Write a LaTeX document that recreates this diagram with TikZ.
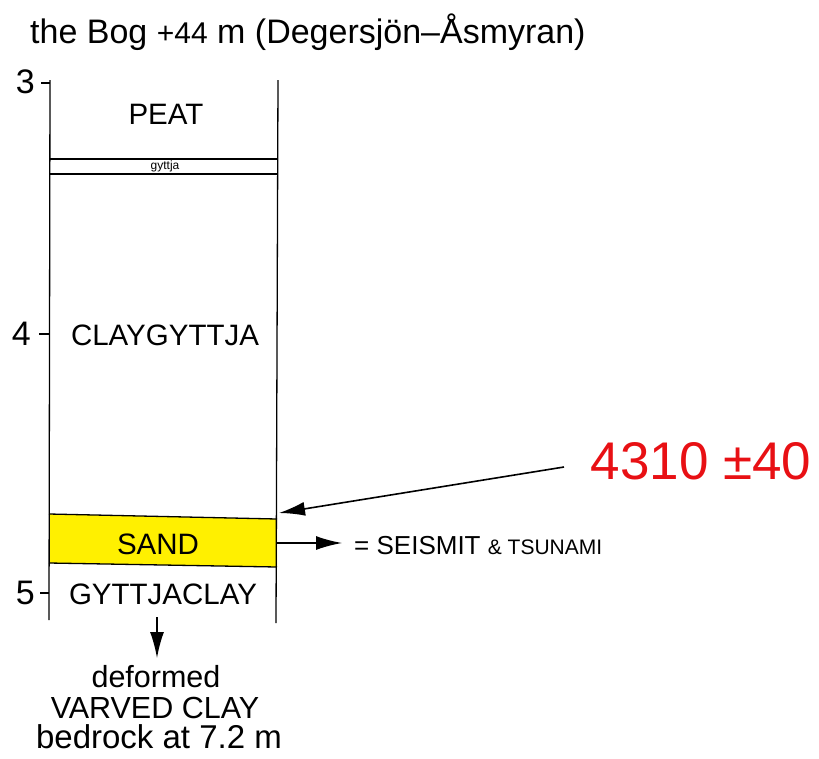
\documentclass[tikz,border=0pt]{standalone}
\usepackage{fontspec}
\setmainfont{Liberation Sans}
\usetikzlibrary{arrows.meta}
\definecolor{sandyellow}{RGB}{255,240,0}
\definecolor{datered}{RGB}{232,16,20}
\tikzset{
  layer/.style={font=\fontsize{29.5}{34}\selectfont, inner sep=0pt},
  tick/.style={font=\fontsize{34}{38}\selectfont, inner sep=0pt, anchor=east},
  col/.style={line width=1.3pt},
  arr/.style={line width=1.6pt, -{Latex[length=26pt,width=14pt]}},
  bottomtxt/.style={font=\fontsize{30.5}{34}\selectfont, inner sep=0pt, anchor=base},
}
\begin{document}
\begin{tikzpicture}[x=1pt,y=-1pt]
\useasboundingbox (0,0) rectangle (819,758);
% title
\node[anchor=base west, inner sep=0pt, font=\fontsize{34}{38}\selectfont] (title) at (30,43)
  {the Bog {\fontsize{30}{32}\selectfont +44} m (Degersjön–Åsmyran)};
% sand layer
\fill[sandyellow] (49,514) -- (277,519) -- (277,567) -- (49,563) -- cycle;
\draw[col] (49,514) -- (277,519);
\draw[col] (49,563) -- (277,567);
% column
\coordinate (tl) at (50,80);
\coordinate (bl) at (49,620);
\coordinate (tr) at (278,80);
\coordinate (br) at (276,623);
\draw[col] (tl) -- (bl);
\draw[col] (tr) -- (br);
% gyttja band
\draw[col] (50,159) -- (278,159);
\draw[col] (50,174) -- (278,174);
% ticks
\draw[col] (41,83) -- (50,83);
\draw[col] (39,334) -- (50,334);
\draw[col] (40,593) -- (49,593);
\node[tick] (t3) at (35,82) {3};
\node[tick] (t4) at (31,334) {4};
\node[tick] (t5) at (35,593) {5};
% layer labels
\node[layer] (peat) at (166,114) {PEAT};
\node[inner sep=0pt, font=\fontsize{12}{14}\selectfont] (gy) at (165,166.5) {gyttja};
\node[layer] (cg) at (165,335) {CLAYGYTTJA};
\node[layer] (sand) at (158,544) {SAND};
\node[layer] (gc) at (163,594) {GYTTJACLAY};
% seismit arrow
\coordinate (sr) at (277,543);
\node[anchor=west, inner sep=0pt, font=\fontsize{26}{30}\selectfont] (seis) at (354,546)
  {= SEISMIT {\fontsize{21}{24}\selectfont \& TSUNAMI}};
\draw[arr] (sr) -- (342,543);
% date
\node[inner sep=0pt, text=datered, font=\fontsize{53}{60}\selectfont] (date) at (701,461) {4310 ±40};
\coordinate (tip) at (279,513);
\draw[arr] (564,467) -- (tip);
% bottom
\coordinate (ds) at (157,617);
\node[bottomtxt] (def) at (156,687) {deformed};
\node[bottomtxt] (var) at (155,718) {VARVED CLAY};
\node[bottomtxt, font=\fontsize{33}{36}\selectfont] (bed) at (159,748) {bedrock at 7.2 m};
\draw[arr] (ds) -- (157,658);
\end{tikzpicture}
\end{document}
